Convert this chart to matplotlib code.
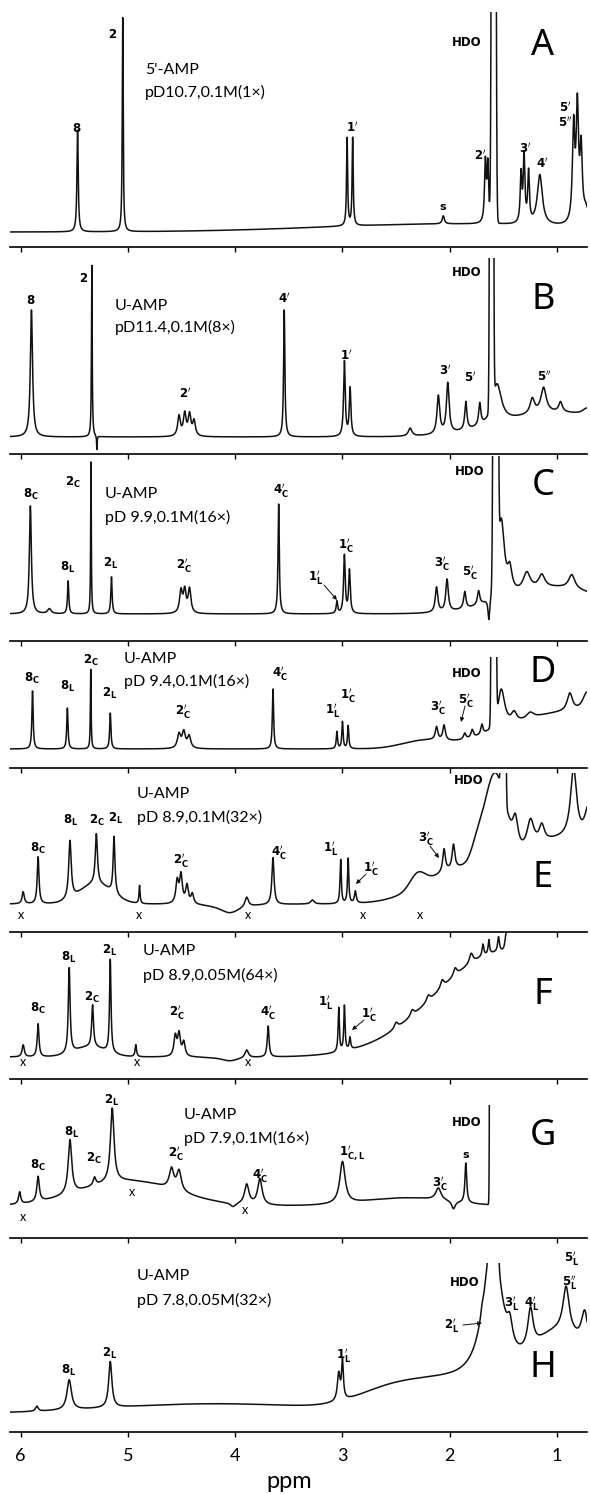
import numpy as np
import matplotlib.pyplot as plt

plt.rcParams['font.family'] = ['Lato', 'DejaVu Sans']

# ---- spectra: per panel a flat baseline, sharp lines (ppm, height, half width)
# ---- and broad/HDO components (ppm, height, sigma); heights
A_base = 15
A_pos = [5.47, 5.049, 2.957, 2.905, 2.06, 1.668, 1.645, 1.335, 1.307, 1.265, 1.16, 0.845, 0.81, 0.775, 0.73]
A_amp = [102, 214, 88, 88, 8, 60, 58, 48, 66, 50, 50, 95, 112, 70, 15]
A_wid = [0.007, 0.005, 0.006, 0.006, 0.012, 0.009, 0.009, 0.009, 0.009, 0.009, 0.028, 0.013, 0.013, 0.013, 0.03]
A_gpos = [2.0, 1.59]
A_gamp = [8, 3000]
A_gsig = [1.2, 0.011]

B_base = 17
B_pos = [5.90, 5.337, 5.29, 4.524, 4.471, 4.426, 4.384, 3.543, 2.982, 2.929, 2.369, 2.106, 2.018,
         1.85, 1.72, 1.56, 1.23, 1.125, 0.967, 0.72]
B_amp = [127, 172, -14, 20, 22, 21, 15, 127, 75, 48, 8, 38, 50, 28, 22, 40, 15, 25, 10, 8]
B_wid = [0.012, 0.004, 0.003, 0.015, 0.015, 0.015, 0.015, 0.007, 0.009, 0.009, 0.02, 0.015, 0.015,
         0.012, 0.012, 0.05, 0.025, 0.03, 0.02, 0.05]
B_gpos = [1.0, 1.61]
B_gamp = [24, 3000]
B_gsig = [0.5, 0.009]

C_base = 27
C_pos = [5.91, 5.733, 5.558, 5.345, 5.154, 4.506, 4.471, 4.426, 3.595, 3.052, 2.982, 2.935, 2.123, 2.025,
         1.86, 1.731, 1.635, 1.52, 1.44, 1.282, 1.142, 0.862]
C_amp = [108, 5, 33, 152, 37, 22, 22, 24, 110, 12, 58, 43, 25, 32, 17, 14, -23, 80, 22, 18, 13, 14]
C_wid = [0.011, 0.02, 0.007, 0.0035, 0.007, 0.015, 0.015, 0.015, 0.007, 0.008, 0.009, 0.009, 0.014, 0.014,
         0.013, 0.013, 0.01, 0.035, 0.025, 0.04, 0.035, 0.035]
C_gpos = [1.0, 1.572]
C_gamp = [26, 3000]
C_gsig = [0.45, 0.0115]

D_base = 19
D_pos = [5.89, 5.565, 5.347, 5.165, 4.524, 4.48, 4.43, 3.648, 3.052, 3.0, 2.947, 2.123, 2.053,
         1.86, 1.79, 1.70, 1.52, 1.40, 1.25, 0.88, 0.72]
D_amp = [58, 41, 80, 36, 14, 16, 12, 60, 17, 27, 23, 13, 15, 6, 8, 10, 40, 10, 6, 18, 22]
D_wid = [0.007, 0.007, 0.004, 0.007, 0.018, 0.018, 0.018, 0.007, 0.007, 0.007, 0.007, 0.014, 0.014,
         0.014, 0.014, 0.012, 0.04, 0.03, 0.04, 0.03, 0.05]
D_gpos = [0.9, 2.25, 1.59]
D_gamp = [36, 7, 3000]
D_gsig = [0.55, 0.2, 0.0101]

E_base = 28
E_pos = [5.977, 5.838, 5.541, 5.295, 5.130, 4.892, 4.541, 4.506, 4.45, 4.40, 4.05, 3.893, 3.648, 3.28,
         3.017, 2.947, 2.88, 2.053, 1.965, 1.388, 1.247, 1.142, 0.845, 0.70]
E_amp = [12, 47, 58, 50, 57, 18, 22, 28, 18, 10, -9, 10, 47, 4, 44, 45, 12, 23, 24, 28, 29, 17, 71, 45]
E_wid = [0.012, 0.01, 0.014, 0.012, 0.01, 0.006, 0.015, 0.015, 0.015, 0.015, 0.12, 0.02, 0.012, 0.02,
         0.007, 0.007, 0.01, 0.015, 0.015, 0.03, 0.04, 0.03, 0.035, 0.05]
E_gpos = [5.3, 1.58, 1.9, 2.3, 1.75, 0.95, 1.50]
E_gamp = [20, 90, 33, 14, 12, 62, 3000]
E_gsig = [0.15, 0.1, 0.35, 0.07, 0.05, 0.4, 0.0097]

F_base = 22
F_pos = [5.977, 5.838, 5.548, 5.33, 5.165, 4.927, 4.559, 4.524, 4.48, 4.05, 3.893, 3.693, 3.035, 2.982,
         2.93, 2.5, 2.35, 2.2, 2.07, 1.95, 1.80, 1.69, 1.635, 1.545, 1.475]
F_amp = [12, 33, 85, 42, 93, 12, 20, 22, 14, -4, 8, 31, 44, 45, 12, 6, 6, 6, 8, 8, 10, 12, 14, 15, 18]
F_wid = [0.012, 0.01, 0.01, 0.01, 0.008, 0.008, 0.015, 0.015, 0.015, 0.1, 0.02, 0.01, 0.007, 0.007,
         0.008, 0.02, 0.02, 0.02, 0.02, 0.02, 0.02, 0.01, 0.008, 0.01, 0.012]
F_gpos = [5.35, 1.5]
F_gamp = [10, 105]
F_gsig = [0.15, 0.62]

G_base = 32
G_pos = [6.01, 5.838, 5.541, 5.312, 5.147, 4.594, 4.524, 4.02, 3.893, 3.77, 3.0, 2.106, 1.965, 1.85]
G_amp = [12, 25, 54, 8, 74, 20, 20, -4, 20, 26, 42, 12, -8, 40]
G_wid = [0.012, 0.014, 0.02, 0.015, 0.02, 0.025, 0.025, 0.03, 0.025, 0.025, 0.03, 0.03, 0.02, 0.01]
G_gpos = [5.0, 2.4, 1.615]
G_gamp = [25, 8, 3000]
G_gsig = [0.45, 0.4, 0.006]

H_base = 18
H_pos = [5.85, 5.548, 5.165, 3.035, 3.0, 1.70, 1.6, 1.44, 1.247, 0.915, 0.74]
H_amp = [5, 30, 46, 27, 38, 5, 150, 22, 39, 45, 40]
H_wid = [0.015, 0.025, 0.018, 0.015, 0.01, 0.01, 0.1, 0.03, 0.03, 0.035, 0.04]
H_gpos = [4.2, 2.0, 2.6, 0.95, 1.59]
H_gamp = [10, 30, 10, 75, 3000]
H_gsig = [1.0, 0.5, 0.3, 0.3, 0.015]

# where each recorder trace stops (ppm)
trace_end = [0.72, 0.72, 0.72, 0.72, 0.72, 1.475, 1.615, 0.72]
ppm_ticks = [6, 5, 4, 3, 2, 1]

panels = [
    ('A', A_base, A_pos, A_amp, A_wid, A_gpos, A_gamp, A_gsig),
    ('B', B_base, B_pos, B_amp, B_wid, B_gpos, B_gamp, B_gsig),
    ('C', C_base, C_pos, C_amp, C_wid, C_gpos, C_gamp, C_gsig),
    ('D', D_base, D_pos, D_amp, D_wid, D_gpos, D_gamp, D_gsig),
    ('E', E_base, E_pos, E_amp, E_wid, E_gpos, E_gamp, E_gsig),
    ('F', F_base, F_pos, F_amp, F_wid, F_gpos, F_gamp, F_gsig),
    ('G', G_base, G_pos, G_amp, G_wid, G_gpos, G_gamp, G_gsig),
    ('H', H_base, H_pos, H_amp, H_wid, H_gpos, H_gamp, H_gsig),
]


def spectrum(x, base, pos, amp, wid, gpos, gamp, gsig):
    y = np.full_like(x, float(base))
    for p, a, w in zip(pos, amp, wid):
        y += a * w ** 2 / ((x - p) ** 2 + w ** 2)
    for p, a, s in zip(gpos, gamp, gsig):
        y += a * np.exp(-(x - p) ** 2 / (2 * s * s))
    return y


W, H = 590, 1494
fig = plt.figure(figsize=(W / 100, H / 100), dpi=100)

# layout in pixels: axis line of each panel and the top where the pen clips
axis_y = [247, 454, 641, 768, 932, 1079, 1238, 1432]
top_y = [12, 258, 456, 657, 773, 932, 1105, 1263]
x0, x1 = 10, 587

axes = []
for i, (name, base, pos, amp, wid, gpos, gamp, gsig) in enumerate(panels):
    ax = fig.add_axes([x0 / W, 1 - axis_y[i] / H, (x1 - x0) / W, (axis_y[i] - top_y[i]) / H])
    ax.set_xlim(6.10, 0.72)
    ax.set_ylim(0, axis_y[i] - top_y[i])
    x = np.linspace(6.10, trace_end[i], 6000)
    ax.plot(x, spectrum(x, base, pos, amp, wid, gpos, gamp, gsig), color='#111111', lw=1.1)
    for s in ['top', 'left', 'right']:
        ax.spines[s].set_visible(False)
    ax.spines['bottom'].set_linewidth(1.2)
    ax.set_yticks([])
    ax.set_xticks(ppm_ticks)
    ax.tick_params(axis='x', direction='out', length=3.5, width=1.0, pad=8, labelsize=13)
    if i < len(panels) - 1:
        ax.set_xticklabels([])
    ax.patch.set_alpha(0)
    axes.append(ax)


def put(x, y, s, size=8.5, weight='bold', ha='center', **kw):
    fig.text(x / W, 1 - y / H, s, ha=ha, va='center', fontsize=size, fontweight=weight, **kw)


def arrow(xa, ya, xb, yb):
    axes[-1].annotate('', xy=(xb / W, 1 - yb / H), xycoords='figure fraction',
                      xytext=(xa / W, 1 - ya / H), textcoords='figure fraction',
                      arrowprops=dict(arrowstyle='-|>', lw=0.7, color='#111111',
                                      mutation_scale=6, shrinkA=0, shrinkB=0),
                      annotation_clip=False)


def lab(n, sub='', pr=0):
    p = '^{' + r'\prime' * pr + '}' if pr else ''
    sb = '_{' + sub + '}' if sub else ''
    return r'$\mathbf{' + n + p + sb + '}$'


# panel letters
for name, yc in zip('ABCDEFGH', [46, 300, 486, 673, 878, 995, 1136, 1368]):
    put(543, yc, name, size=26, weight='light', family=['Noto Sans', 'DejaVu Sans'])

# sample descriptions
desc = [("5'-AMP", 'pD10.7,0.1M(1×)', 145, 70, 92),
        ('U-AMP', 'pD11.4,0.1M(8×)', 115, 306, 327),
        ('U-AMP', 'pD 9.9,0.1M(16×)', 105, 494, 517),
        ('U-AMP', 'pD 9.4,0.1M(16×)', 124, 659, 681),
        ('U-AMP', 'pD 8.9,0.1M(32×)', 137, 794, 817),
        ('U-AMP', 'pD 8.9,0.05M(64×)', 143, 951, 975),
        ('U-AMP', 'pD 7.9,0.1M(16×)', 184, 1115, 1138),
        ('U-AMP', 'pD 7.8,0.05M(32×)', 137, 1276, 1300)]
for t1, t2, xl, y1, y2 in desc:
    put(xl, y1, t1, size=11.5, weight='normal', ha='left')
    put(xl, y2, t2, size=11.5, weight='normal', ha='left')

# HDO markers
for xh, yh in [(467, 43), (467, 273), (470, 472), (467, 673), (469, 781), (467, 1122), (465, 1283)]:
    put(xh, yh, 'HDO', size=8.5, family='DejaVu Sans')

# A
put(113, 33, lab('2')); put(77, 127, lab('8')); put(352, 127, lab('1', pr=1))
put(443, 207, 's', size=8, family='DejaVu Sans'); put(480, 155, lab('2', pr=1)); put(525, 148, lab('3', pr=1))
put(542, 163, lab('4', pr=1)); put(565, 107, lab('5', pr=1)); put(565, 122, lab('5', pr=2))
# B
put(31, 300, lab('8')); put(84, 277, lab('2')); put(185, 393, lab('2', pr=1))
put(284, 298, lab('4', pr=1)); put(346, 355, lab('1', pr=1)); put(445, 370, lab('3', pr=1))
put(470, 377, lab('5', pr=1)); put(544, 376, lab('5', pr=2))
# C
put(31, 494, lab('8', 'C')); put(73, 482, lab('2', 'C')); put(281, 490, lab('4', 'C', 1))
put(346, 545, lab('1', 'C', 1)); put(68, 567, lab('8', 'L')); put(111, 563, lab('2', 'L'))
put(184, 565, lab('2', 'C', 1)); put(316, 577, lab('1', 'L', 1)); put(442, 563, lab('3', 'C', 1))
put(470, 572, lab('5', 'C', 1))
arrow(324, 585, 337, 600)
# D
put(32, 678, lab('8', 'C')); put(68, 686, lab('8', 'L')); put(91, 660, lab('2', 'C'))
put(110, 693, lab('2', 'L')); put(183, 711, lab('2', 'C', 1)); put(280, 673, lab('4', 'C', 1))
put(348, 695, lab('1', 'C', 1)); put(333, 710, lab('1', 'L', 1)); put(438, 707, lab('3', 'C', 1))
put(466, 700, lab('5', 'C', 1))
arrow(465, 706, 461, 722)
# E
put(38, 848, lab('8', 'C')); put(71, 820, lab('8', 'L')); put(97, 820, lab('2', 'C'))
put(116, 818, lab('2', 'L')); put(181, 860, lab('2', 'C', 1)); put(279, 852, lab('4', 'C', 1))
put(331, 848, lab('1', 'L', 1)); put(371, 868, lab('1', 'C', 1)); put(426, 838, lab('3', 'C', 1))
arrow(366, 874, 356, 884)
arrow(430, 846, 439, 858)
for xx in [21, 139, 248, 363, 420]:
    put(xx, 915, 'x', size=9, weight='normal')
# F
put(38, 1008, lab('8', 'C')); put(69, 957, lab('8', 'L')); put(92, 997, lab('2', 'C'))
put(110, 950, lab('2', 'L')); put(177, 1012, lab('2', 'C', 1)); put(268, 1012, lab('4', 'C', 1))
put(326, 1002, lab('1', 'L', 1)); put(369, 1014, lab('1', 'C', 1))
arrow(364, 1020, 352, 1030)
for xx in [23, 137, 248]:
    put(xx, 1062, 'x', size=9, weight='normal')
# G
put(38, 1165, lab('8', 'C')); put(72, 1132, lab('8', 'L')); put(94, 1158, lab('2', 'C'))
put(112, 1100, lab('2', 'L')); put(176, 1153, lab('2', 'C', 1)); put(260, 1175, lab('4', 'C', 1))
put(352, 1153, lab('1', 'C,L', 1)); put(440, 1183, lab('3', 'C', 1))
put(466, 1155, 's', size=8, family='DejaVu Sans')
for xx, yy in [(132, 1192), (23, 1217), (245, 1210)]:
    put(xx, yy, 'x', size=9, weight='normal')
# H
put(69, 1370, lab('8', 'L')); put(110, 1353, lab('2', 'L')); put(344, 1355, lab('1', 'L', 1))
put(452, 1325, lab('2', 'L', 1)); put(512, 1303, lab('3', 'L', 1)); put(532, 1303, lab('4', 'L', 1))
put(572, 1258, lab('5', 'L', 1)); put(570, 1282, lab('5', 'L', 2))
arrow(463, 1325, 482, 1323)

put(289, 1482, 'ppm', size=17, weight='normal')

fig.savefig('out.png', dpi=100)
